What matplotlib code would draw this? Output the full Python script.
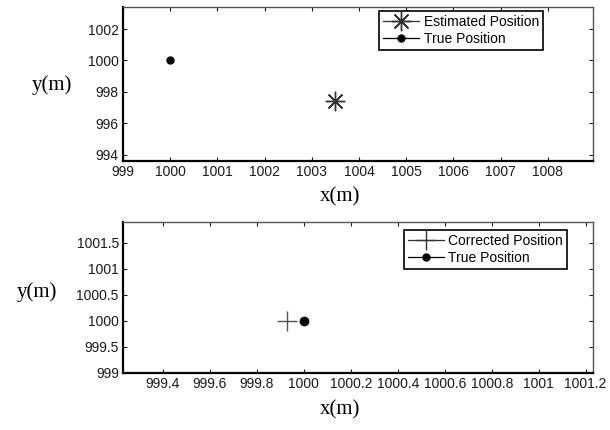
import matplotlib

matplotlib.use("Agg")
import matplotlib.pyplot as plt
from matplotlib.lines import Line2D

# top panel: estimated vs true
est_x = [1003.5]
est_y = [997.4]
true_x = [1000.0]
true_y = [1000.0]
top_xticks = [999, 1000, 1001, 1002, 1003, 1004, 1005, 1006, 1007, 1008]
top_yticks = [994, 996, 998, 1000, 1002]

# bottom panel: corrected vs true
corr_x = [999.93]
corr_y = [1000.0]
bot_xticks = [999.4, 999.6, 999.8, 1000, 1000.2, 1000.4, 1000.6, 1000.8, 1001, 1001.2]
bot_xlabels = ["999.4", "999.6", "999.8", "1000", "1000.2", "1000.4", "1000.6", "1000.8", "1001", "1001.2"]
bot_yticks = [999, 999.5, 1000, 1000.5, 1001, 1001.5]
bot_ylabels = ["999", "999.5", "1000", "1000.5", "1001", "1001.5"]

plt.rcParams["font.family"] = ["Liberation Sans", "DejaVu Sans"]

fig = plt.figure(figsize=(6.1, 4.3), dpi=100)
ax1 = fig.add_axes([0.2016, 0.6256, 0.770, 0.358])
ax2 = fig.add_axes([0.2016, 0.1326, 0.770, 0.351])

star = (8, 2, 0)


def style_axes(ax):
    ax.tick_params(direction="in", top=True, right=True, length=3, width=0.8,
                   labelsize=10, colors="#1a1a1a", pad=3)
    for side in ("left", "bottom"):
        ax.spines[side].set_linewidth(1.6)
        ax.spines[side].set_color("black")
    for side in ("top", "right"):
        ax.spines[side].set_linewidth(1.0)
        ax.spines[side].set_color("#555555")


# top
ax1.plot(est_x, est_y, "-", marker=star, color="#333333", markersize=14, markeredgewidth=1.0)
ax1.plot(true_x, true_y, "-", marker="o", color="black", markersize=5)
ax1.set_xlim(999, 1008.95)
ax1.set_ylim(993.6, 1003.4)
ax1.set_xticks(top_xticks)
ax1.set_yticks(top_yticks)
ax1.set_xticklabels([str(t) for t in top_xticks])
ax1.set_yticklabels([str(t) for t in top_yticks])
style_axes(ax1)
ax1.set_xlabel("x(m)", family="Liberation Serif", fontsize=15, va="center")
ax1.set_ylabel("y(m)", family="Liberation Serif", fontsize=15, rotation=0, va="center", ha="center")
ax1.xaxis.set_label_coords(0.462, -0.234)
ax1.yaxis.set_label_coords(-0.151, 0.49)

h1 = [
    Line2D([], [], color="#333333", lw=0.9, marker=star, markersize=14, markeredgewidth=1.0),
    Line2D([], [], color="black", lw=0.9, marker="o", markersize=5),
]
leg1 = ax1.legend(h1, ["Estimated Position", "True Position"], loc="upper right",
                  bbox_to_anchor=(543 / 610, 1 - 11 / 430), bbox_transform=fig.transFigure,
                  fontsize=10, fancybox=False, framealpha=1, edgecolor="black",
                  handlelength=2.6, handletextpad=0.3, borderpad=0.3, labelspacing=0.2,
                  borderaxespad=0)
leg1.get_frame().set_linewidth(1.2)

# bottom
ax2.plot(corr_x, corr_y, "-", marker="+", color="#555555", markersize=15, markeredgewidth=1.0)
ax2.plot(true_x, true_y, "-", marker="o", color="black", markersize=6)
ax2.set_xlim(999.23, 1001.23)
ax2.set_ylim(999, 1001.9)
ax2.set_xticks(bot_xticks)
ax2.set_xticklabels(bot_xlabels)
ax2.set_yticks(bot_yticks)
ax2.set_yticklabels(bot_ylabels)
style_axes(ax2)
ax2.set_xlabel("x(m)", family="Liberation Serif", fontsize=15, va="center")
ax2.set_ylabel("y(m)", family="Liberation Serif", fontsize=15, rotation=0, va="center", ha="center")
ax2.xaxis.set_label_coords(0.462, -0.245)
ax2.yaxis.set_label_coords(-0.183, 0.536)

h2 = [
    Line2D([], [], color="#333333", lw=0.9, marker="+", markersize=14, markeredgewidth=1.0),
    Line2D([], [], color="black", lw=0.9, marker="o", markersize=5),
]
leg2 = ax2.legend(h2, ["Corrected Position", "True Position"], loc="upper right",
                  bbox_to_anchor=(567 / 610, 1 - 230 / 430), bbox_transform=fig.transFigure,
                  fontsize=10, fancybox=False, framealpha=1, edgecolor="black",
                  handlelength=2.6, handletextpad=0.3, borderpad=0.3, labelspacing=0.2,
                  borderaxespad=0)
leg2.get_frame().set_linewidth(1.2)

fig.savefig("out.png", dpi=100)
